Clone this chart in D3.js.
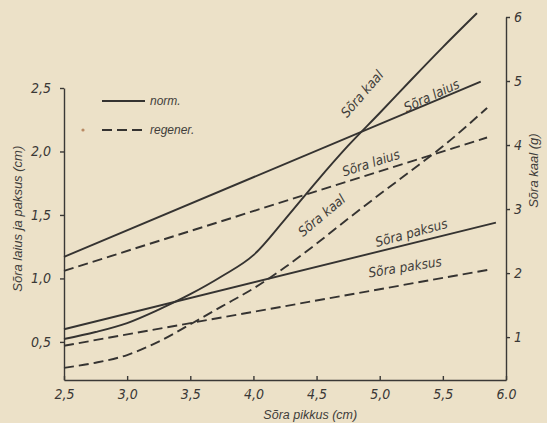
<!DOCTYPE html>
<html>
<head>
<meta charset="utf-8">
<script src="https://cdn.jsdelivr.net/npm/d3@7"></script>
<style>
    body { margin: 0; background: #ece1c8; }
    #vis svg { display: block; }
    .axis path, .axis line { stroke: #3a3836; stroke-width: 1.4; fill: none; }
    .axis text { font-family: 'Liberation Sans Narrow', 'DejaVu Sans Condensed', sans-serif; font-style: italic; font-size: 14px; fill: #3a3836; }
    .title, .lbl, .legend { font-family: 'Liberation Sans', 'DejaVu Sans', sans-serif; font-style: italic; fill: #3f3d3a; }
    .lbl { font-family: 'Liberation Sans Narrow', 'DejaVu Sans Condensed', sans-serif; }
    .line { fill: none; stroke: #353331; stroke-width: 1.9; }
    .dash { stroke-dasharray: 10 5; }
</style>
</head>
<body>
<div id="vis"></div>
<script>
// values
var xTicks = [2.5, 3.0, 3.5, 4.0, 4.5, 5.0, 5.5, 6.0];
var xTickLabels = ['2,5', '3,0', '3,5', '4,0', '4,5', '5,0', '5,5', '6.0'];
var leftTicks = [0.5, 1.0, 1.5, 2.0, 2.5];
var leftTickLabels = ['0,5', '1,0', '1,5', '2,0', '2,5'];
var rightTicks = [1, 2, 3, 4, 5, 6];

// Sõra laius / paksus (left axis, straight lines)
var laiusNormX = [2.5, 5.8];
var laiusNorm = [1.17, 2.55];
var laiusRegenX = [2.5, 5.85];
var laiusRegen = [1.06, 2.11];
var paksusNormX = [2.5, 5.92];
var paksusNorm = [0.60, 1.44];
var paksusRegenX = [2.5, 5.87];
var paksusRegen = [0.47, 1.07];

// Sõra kaal (right axis)
var kaalNormX = [2.5, 2.75, 3.0, 3.25, 3.5, 3.75, 4.0, 4.25, 4.5, 4.75, 5.0, 5.25, 5.5, 5.77];
var kaalNorm = [0.97, 1.08, 1.22, 1.43, 1.67, 1.95, 2.28, 2.84, 3.43, 3.99, 4.50, 5.02, 5.53, 6.06];
var kaalRegenX = [2.5, 2.75, 3.0, 3.25, 3.5, 3.75, 4.0, 4.25, 4.5, 4.75, 5.0, 5.25, 5.5, 5.85];
var kaalRegen = [0.52, 0.60, 0.72, 0.93, 1.20, 1.48, 1.76, 2.09, 2.46, 2.85, 3.23, 3.60, 3.98, 4.58];

var width = 547;
var height = 423;
var margin = { left: 64, right: 41, top: 17, bottom: 43 };

var svg = d3.select('#vis')
    .append('svg')
    .attr('width', width)
    .attr('height', height);

svg.append('rect')
    .attr('width', width)
    .attr('height', height)
    .attr('fill', '#ece1c8');

var xScale = d3.scaleLinear()
    .domain([2.5, 6.0])
    .range([margin.left, width - margin.right]);

var yLeft = d3.scaleLinear()
    .domain([0.2, 2.5])
    .range([height - margin.bottom, 88]);

var yRight = d3.scaleLinear()
    .domain([0.33, 6.0])
    .range([height - margin.bottom, margin.top]);

// axes
var xAxis = d3.axisBottom(xScale)
    .tickValues(xTicks)
    .tickFormat(function(d, i) { return xTickLabels[i]; })
    .tickSizeInner(-4)
    .tickSizeOuter(0)
    .tickPadding(9);

var leftAxis = d3.axisLeft(yLeft)
    .tickValues(leftTicks)
    .tickFormat(function(d, i) { return leftTickLabels[i]; })
    .tickSizeInner(4)
    .tickSizeOuter(0)
    .tickPadding(9);

var rightAxis = d3.axisRight(yRight)
    .tickValues(rightTicks)
    .tickFormat(d3.format('d'))
    .tickSizeInner(4)
    .tickSizeOuter(0)
    .tickPadding(4);

svg.append('g')
    .attr('class', 'axis')
    .attr('transform', 'translate(0,' + (height - margin.bottom) + ')')
    .call(xAxis);

svg.append('g')
    .attr('class', 'axis')
    .attr('transform', 'translate(' + margin.left + ',0)')
    .call(leftAxis);

svg.append('g')
    .attr('class', 'axis')
    .attr('transform', 'translate(' + (width - margin.right) + ',0)')
    .call(rightAxis);

// axis titles
svg.append('text')
    .attr('class', 'title')
    .attr('x', xScale(4.45))
    .attr('y', height - 4)
    .attr('text-anchor', 'middle')
    .style('font-size', '12.5px')
    .text('Sõra pikkus (cm)');

svg.append('text')
    .attr('class', 'title')
    .attr('transform', 'translate(22,' + yLeft(1.47) + ') rotate(-90)')
    .attr('text-anchor', 'middle')
    .style('font-size', '13px')
    .text('Sõra laius ja paksus (cm)');

svg.append('text')
    .attr('class', 'title')
    .attr('transform', 'translate(' + (width - 9) + ',' + yRight(3.6) + ') rotate(-90)')
    .attr('text-anchor', 'middle')
    .style('font-size', '13px')
    .text('Sõra kaal (g)');

// lines
var pairs = function(xs, ys) {
    return xs.map(function(x, i) { return [x, ys[i]]; });
};

var lineLeft = d3.line()
    .x(function(d) { return xScale(d[0]); })
    .y(function(d) { return yLeft(d[1]); });

var lineRight = d3.line()
    .x(function(d) { return xScale(d[0]); })
    .y(function(d) { return yRight(d[1]); })
    .curve(d3.curveMonotoneX);

var series = [
    { pts: pairs(laiusNormX, laiusNorm), gen: lineLeft, dash: false },
    { pts: pairs(laiusRegenX, laiusRegen), gen: lineLeft, dash: true },
    { pts: pairs(paksusNormX, paksusNorm), gen: lineLeft, dash: false },
    { pts: pairs(paksusRegenX, paksusRegen), gen: lineLeft, dash: true },
    { pts: pairs(kaalNormX, kaalNorm), gen: lineRight, dash: false },
    { pts: pairs(kaalRegenX, kaalRegen), gen: lineRight, dash: true }
];

svg.selectAll('path.line')
    .data(series)
    .enter().append('path')
    .attr('class', function(d) { return d.dash ? 'line dash' : 'line'; })
    .attr('d', function(d) { return d.gen(d.pts); });

// curve labels
var labels = [
    { t: 'Sõra kaal', x: 4.86, y: yRight(4.8), a: -49 },
    { t: 'Sõra laius', x: 5.41, y: yLeft(2.44), a: -25 },
    { t: 'Sõra laius', x: 4.93, y: yLeft(1.91), a: -18 },
    { t: 'Sõra kaal', x: 4.54, y: yRight(2.9), a: -40 },
    { t: 'Sõra paksus', x: 5.25, y: yLeft(1.36), a: -15 },
    { t: 'Sõra paksus', x: 5.2, y: yLeft(1.09), a: -9 }
];

svg.selectAll('text.lbl')
    .data(labels)
    .enter().append('text')
    .attr('class', 'lbl')
    .attr('text-anchor', 'middle')
    .attr('dy', '0.35em')
    .style('font-size', '13.5px')
    .attr('transform', function(d) {
        return 'translate(' + xScale(d.x) + ',' + d.y + ') rotate(' + d.a + ')';
    })
    .text(function(d) { return d.t; });

// legend
var legend = svg.append('g')
    .attr('class', 'legend');

legend.append('line')
    .attr('class', 'line')
    .attr('x1', 102).attr('x2', 145)
    .attr('y1', 101).attr('y2', 101);

legend.append('line')
    .attr('class', 'line dash')
    .attr('x1', 102).attr('x2', 145)
    .attr('y1', 130).attr('y2', 130);

legend.append('text')
    .attr('x', 150).attr('y', 105)
    .style('font-size', '12px')
    .text('norm.');

legend.append('text')
    .attr('x', 150).attr('y', 134)
    .style('font-size', '12px')
    .text('regener.');

// speck on the scan
svg.append('circle')
    .attr('cx', 83).attr('cy', 130)
    .attr('r', 1.6)
    .attr('fill', '#b98a64');
</script>
</body>
</html>
